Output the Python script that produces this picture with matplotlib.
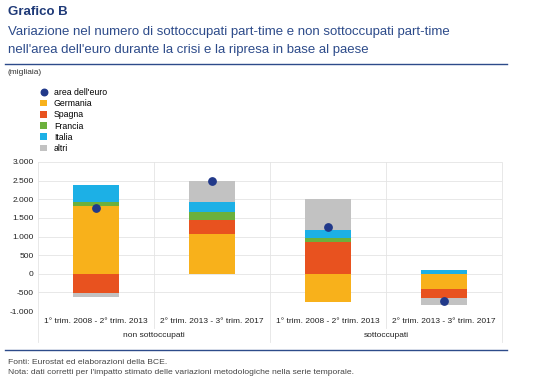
import numpy as np
import matplotlib.pyplot as plt
from matplotlib.lines import Line2D

plt.rcParams['font.family'] = ['Liberation Sans', 'DejaVu Sans']

categories = ['1° trim. 2008 - 2° trim. 2013', '2° trim. 2013 - 3° trim. 2017',
              '1° trim. 2008 - 2° trim. 2013', '2° trim. 2013 - 3° trim. 2017']
groups = ['non sottoccupati', 'sottoccupati']
series = ['Germania', 'Spagna', 'Francia', 'Italia', 'altri']
germania = [1820, 1080, -750, -420]
spagna = [-510, 360, 840, -230]
francia = [100, 210, 125, 0]
italia = [470, 280, 220, 110]
altri = [-125, 560, 810, -180]
euro_area = [1770, 2490, 1250, -720]
yticks = [-1000, -500, 0, 500, 1000, 1500, 2000, 2500, 3000]
ytick_labels = ['-1.000', '-500', '0', '500', '1.000', '1.500', '2.000', '2.500', '3.000']

colors = ['#f8b11b', '#e8521f', '#6cb03c', '#1cb0e6', '#c2c2c2']
dot_color = '#21398a'
dark_blue = '#1f3a78'
line_blue = '#2d4b8a'
grid_col = '#e4e4e4'

fig = plt.figure(figsize=(5.4, 3.88), dpi=100)
ax = fig.add_axes([38 / 540, 1 - 311 / 388, 464 / 540, 149 / 388])

x = np.arange(len(categories))
pos_base = np.zeros(len(categories))
neg_base = np.zeros(len(categories))
bars = []
for name, vals, c in zip(series, [germania, spagna, francia, italia, altri], colors):
    vals = np.array(vals, dtype=float)
    bottom = np.where(vals >= 0, pos_base, neg_base)
    b = ax.bar(x, vals, 0.4, bottom=bottom, color=c, label=name, zorder=2)
    bars.append(b)
    pos_base = pos_base + np.where(vals > 0, vals, 0)
    neg_base = neg_base + np.where(vals < 0, vals, 0)

dots = ax.scatter(x, euro_area, s=28, color=dot_color, zorder=3, label="area dell'euro")

ax.set_xlim(-0.5, len(categories) - 0.5)
ax.set_ylim(-1000, 3000)
ax.set_yticks(yticks)
ax.set_yticklabels(ytick_labels)
ax.yaxis.grid(True, color=grid_col, linewidth=0.6, zorder=0)
ax.set_axisbelow(True)
ax.tick_params(axis='both', length=0, labelsize=6, colors='#222222')
ax.tick_params(axis='y', pad=3)
ax.set_xticks(x)
ax.set_xticklabels(categories)
ax.tick_params(axis='x', pad=5)
for s in ax.spines.values():
    s.set_visible(False)

# vertical separators
tr = ax.get_xaxis_transform()
for xs, y0 in [(-0.5, -0.21), (0.5, -0.115), (1.5, -0.21), (2.5, -0.115), (3.5, -0.21)]:
    ax.plot([xs, xs], [1, y0], color=grid_col, linewidth=0.6, transform=tr, clip_on=False, zorder=0)

for i, g in enumerate(groups):
    ax.text(2 * i + 0.5, -0.165, g, transform=tr, ha='center', va='center',
            fontsize=6, color='#222222')

handles = [dots] + bars
labels = ["area dell'euro"] + series
leg = fig.legend(handles, labels, loc='upper left', bbox_to_anchor=(40 / 540, 1 - 88 / 388),
                 frameon=False, fontsize=6.3, handlelength=0.8, handleheight=0.8,
                 handletextpad=0.8, labelspacing=0.25, borderaxespad=0, borderpad=0,
                 scatterpoints=1)
leg.legend_handles[0].set_sizes([22])

fig.text(8 / 540, 1 - 12 / 388, 'Grafico B', fontsize=9.5, fontweight='bold',
         color=dark_blue, va='center')
fig.text(8 / 540, 1 - 32 / 388,
         'Variazione nel numero di sottoccupati part-time e non sottoccupati part-time',
         fontsize=9.55, color=line_blue, va='center')
fig.text(8 / 540, 1 - 50 / 388,
         "nell'area dell'euro durante la crisi e la ripresa in base al paese",
         fontsize=9.55, color=line_blue, va='center')
fig.add_artist(Line2D([5 / 540, 507 / 540], [1 - 64 / 388] * 2, color=line_blue, linewidth=1))
fig.text(8 / 540, 1 - 73 / 388, '(migliaia)', fontsize=6, color='#333333', va='center')

fig.add_artist(Line2D([5 / 540, 507 / 540], [1 - 350 / 388] * 2, color=line_blue, linewidth=1))
fig.text(8 / 540, 1 - 362 / 388, 'Fonti: Eurostat ed elaborazioni della BCE.',
         fontsize=6.1, color='#444444', va='center')
fig.text(8 / 540, 1 - 373 / 388,
         "Nota: dati corretti per l'impatto stimato delle variazioni metodologiche nella serie temporale.",
         fontsize=6.1, color='#444444', va='center')

fig.savefig('out.png', dpi=100)
